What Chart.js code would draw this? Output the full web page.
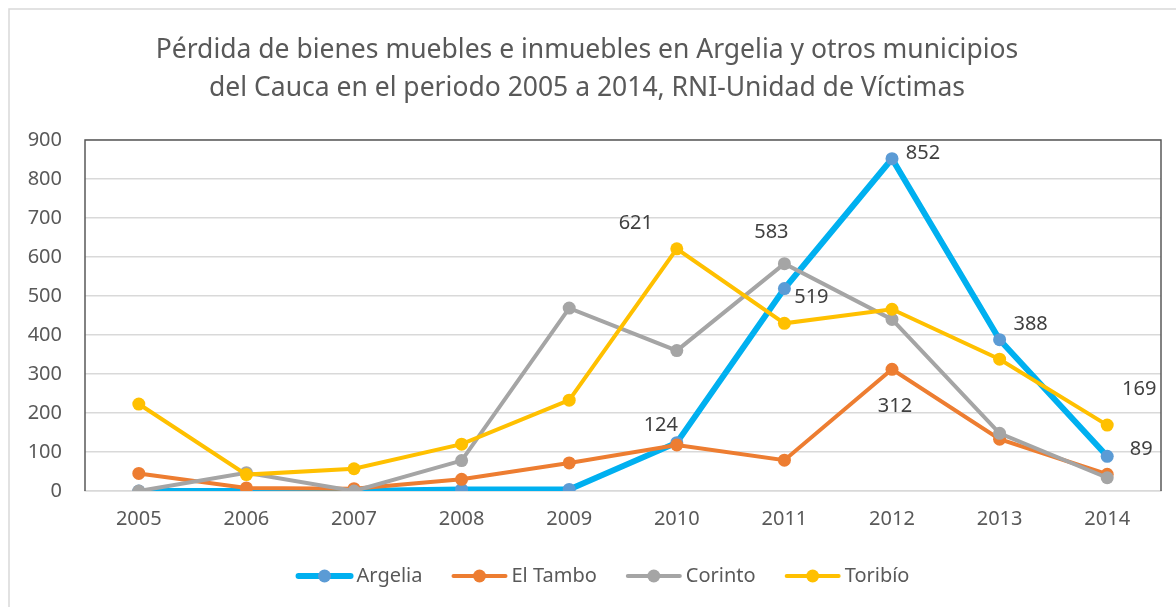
<!DOCTYPE html>
<html>
<head>
<meta charset="utf-8">
<script src="https://cdn.jsdelivr.net/npm/chart.js@4.4.1/dist/chart.umd.min.js"></script>
<style>
  html, body { margin: 0; padding: 0; background: #ffffff; }
  #wrap { width: 1176px; height: 607px; position: relative; }
</style>
</head>
<body>
<div id="wrap"><canvas id="chart" width="1176" height="607"></canvas></div>
<script>
// data
const years = ['2005', '2006', '2007', '2008', '2009', '2010', '2011', '2012', '2013', '2014'];
const argelia = [0, 0, 0, 4, 4, 124, 519, 852, 388, 89];
const elTambo = [45, 8, 6, 30, 72, 118, 79, 312, 133, 43];
const corinto = [0, 47, 0, 78, 469, 360, 583, 440, 148, 34];
const toribio = [223, 42, 57, 120, 233, 621, 430, 466, 338, 169];
const yTicks = [0, 100, 200, 300, 400, 500, 600, 700, 800, 900];

const titleLines = [
    'Pérdida de bienes muebles e inmuebles en Argelia y otros municipios',
    'del Cauca en el periodo 2005 a 2014, RNI-Unidad de Víctimas'
];

const FONT = '"Noto Sans", "Open Sans", sans-serif';

// which points carry a value label, and where it sits relative to the point
const labelSpots = {
    0: { 5: [-16, -17], 6: [27, 9], 7: [31, -5], 8: [31, -15], 9: [34, -7] },
    1: { 7: [3, 37] },
    2: { 6: [-13, -31] },
    3: { 5: [-41, -26], 9: [32, -36] }
};

const frameAndText = {
    id: 'frameAndText',
    beforeDraw(chart) {
        const ctx = chart.ctx;
        ctx.save();
        // outer chart frame
        ctx.strokeStyle = '#d9d9d9';
        ctx.lineWidth = 1.5;
        ctx.beginPath();
        ctx.moveTo(9, 607);
        ctx.lineTo(9, 9);
        ctx.lineTo(1176, 9);
        ctx.stroke();

        // title
        ctx.fillStyle = '#595959';
        ctx.textAlign = 'center';
        ctx.textBaseline = 'middle';
        ctx.font = '26.5px ' + FONT;
        ctx.fillText(titleLines[0], 587, 50);
        ctx.fillText(titleLines[1], 587, 88);
        ctx.restore();
    },
    afterDatasetsDraw(chart) {
        const ctx = chart.ctx;
        const area = chart.chartArea;
        ctx.save();
        // plot frame: top, left and right edges
        ctx.strokeStyle = '#595959';
        ctx.lineWidth = 1.5;
        ctx.beginPath();
        ctx.moveTo(area.left, area.bottom);
        ctx.lineTo(area.left, area.top);
        ctx.lineTo(area.right, area.top);
        ctx.lineTo(area.right, area.bottom);
        ctx.stroke();

        // value labels
        ctx.fillStyle = '#404040';
        ctx.font = '20px ' + FONT;
        ctx.textAlign = 'center';
        ctx.textBaseline = 'middle';
        Object.keys(labelSpots).forEach(ds => {
            const meta = chart.getDatasetMeta(+ds);
            const values = chart.data.datasets[ds].data;
            Object.keys(labelSpots[ds]).forEach(i => {
                const pt = meta.data[i];
                const off = labelSpots[ds][i];
                ctx.fillText(String(values[i]), pt.x + off[0], pt.y + off[1]);
            });
        });

        // legend
        const items = chart.data.datasets.map(d => ({
            text: d.label, line: d.borderColor, dot: d.pointBackgroundColor, w: d.borderWidth
        }));
        ctx.textAlign = 'left';
        ctx.fillStyle = '#595959';
        const segW = 56, gapText = 4, gapItem = 29;
        let total = 0;
        items.forEach((it, k) => {
            it.tw = ctx.measureText(it.text).width;
            total += segW + gapText + it.tw + (k < items.length - 1 ? gapItem : 0);
        });
        let x = 603 - total / 2;
        const ly = 576;
        items.forEach(it => {
            ctx.strokeStyle = it.line;
            ctx.lineWidth = it.w;
            ctx.lineCap = 'round';
            ctx.beginPath();
            ctx.moveTo(x + 2, ly);
            ctx.lineTo(x + segW - 2, ly);
            ctx.stroke();
            ctx.fillStyle = it.dot;
            ctx.beginPath();
            ctx.arc(x + segW / 2, ly, 6.5, 0, Math.PI * 2);
            ctx.fill();
            ctx.fillStyle = '#595959';
            ctx.fillText(it.text, x + segW + gapText, ly);
            x += segW + gapText + it.tw + gapItem;
        });
        ctx.restore();
    }
};

function series(label, values, line, dot, width, order) {
    return {
        label: label,
        data: values,
        borderColor: line,
        backgroundColor: line,
        borderWidth: width,
        pointBackgroundColor: dot,
        pointBorderColor: dot,
        pointBorderWidth: 0,
        pointRadius: 6.5,
        tension: 0,
        order: order
    };
}

new Chart(document.getElementById('chart').getContext('2d'), {
    type: 'line',
    data: {
        labels: years,
        datasets: [
            series('Argelia', argelia, '#00b0f0', '#5b9bd5', 6, 4),
            series('El Tambo', elTambo, '#ed7d31', '#ed7d31', 4, 3),
            series('Corinto', corinto, '#a5a5a5', '#a5a5a5', 4, 2),
            series('Toribío', toribio, '#ffc000', '#ffc000', 4, 1)
        ]
    },
    plugins: [frameAndText],
    options: {
        responsive: false,
        animation: false,
        layout: { padding: { left: 0, right: 15, top: 140, bottom: 76 } },
        plugins: {
            legend: { display: false },
            title: { display: false },
            tooltip: { enabled: false }
        },
        scales: {
            x: {
                offset: true,
                grid: { display: false, drawTicks: false },
                border: { display: true, color: '#d9d9d9', width: 1.5 },
                ticks: { color: '#595959', font: { family: FONT, size: 20 }, padding: 16 },
                afterFit(scale) { scale.height = 40; }
            },
            y: {
                min: 0,
                max: 900,
                afterBuildTicks(scale) { scale.ticks = yTicks.map(v => ({ value: v })); },
                grid: { color: '#d9d9d9', lineWidth: 1.5, drawTicks: false },
                border: { display: false },
                ticks: { color: '#595959', font: { family: FONT, size: 20 }, padding: 23 },
                afterFit(scale) { scale.width = 85; }
            }
        }
    }
});
</script>
</body>
</html>
